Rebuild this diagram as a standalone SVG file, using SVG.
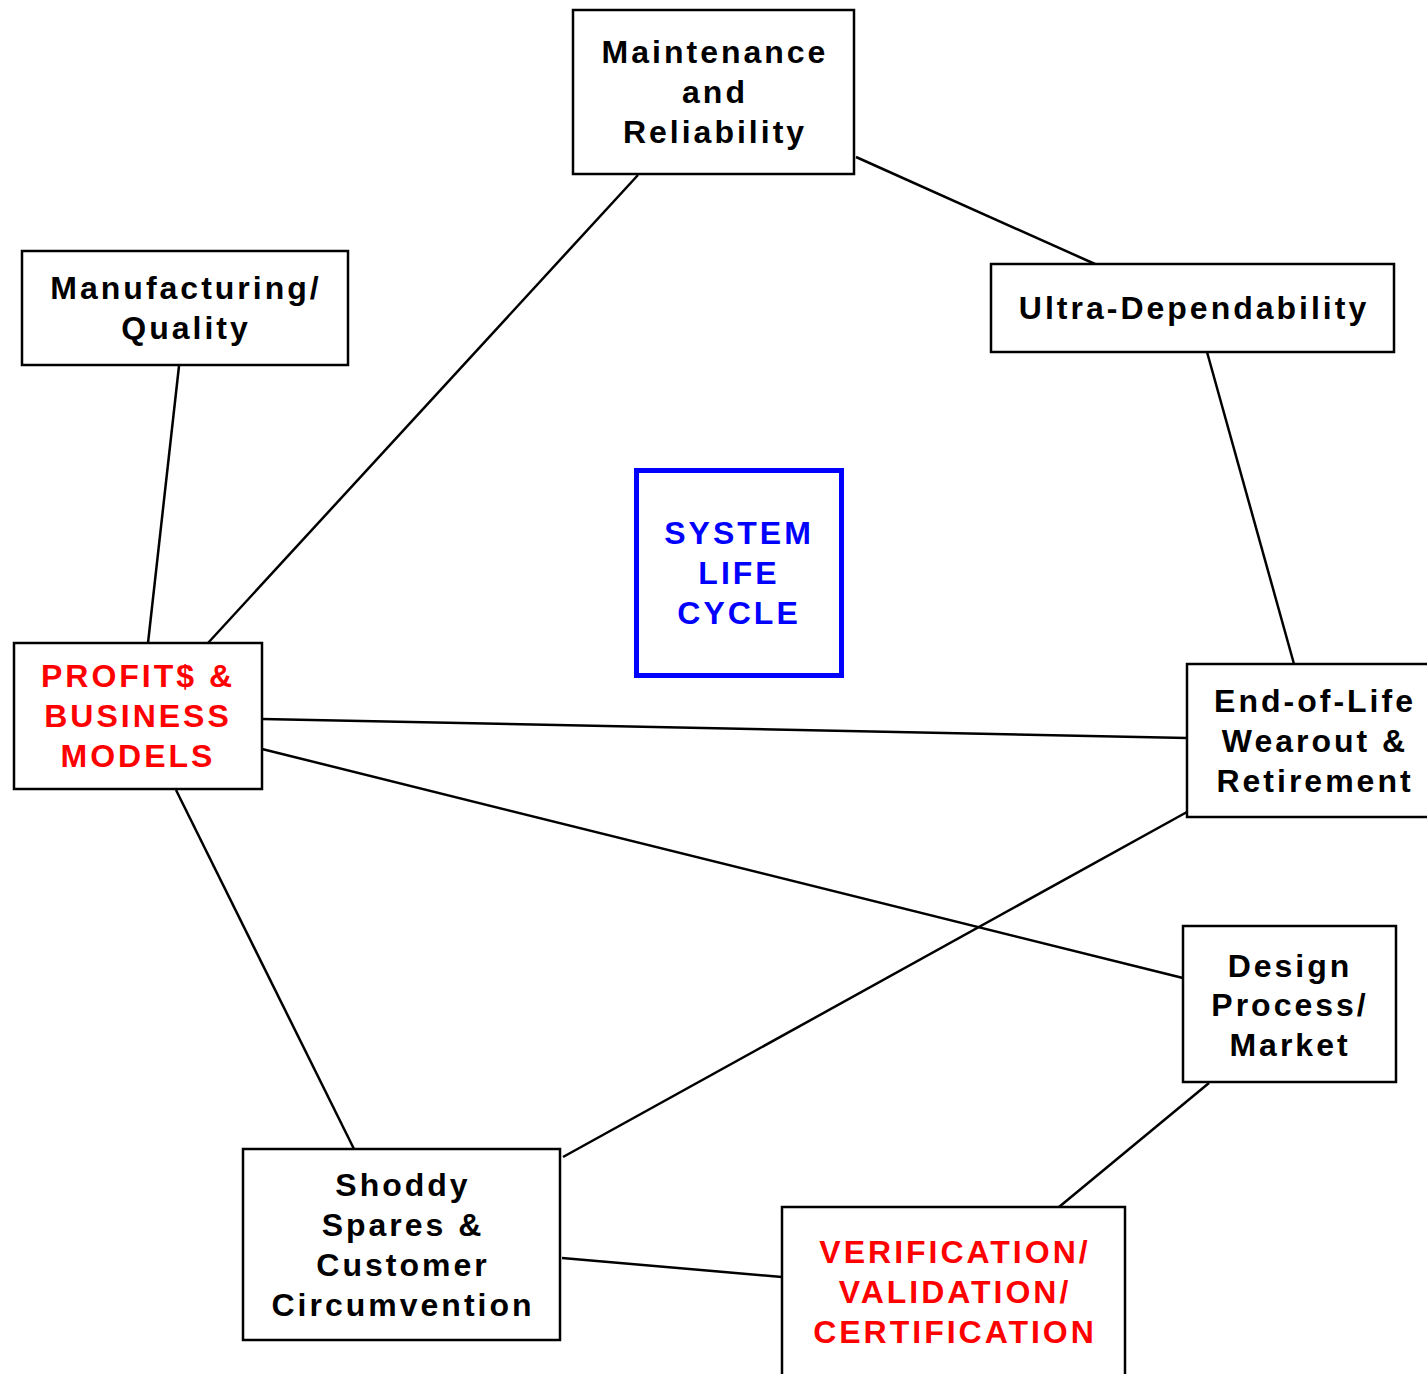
<svg xmlns="http://www.w3.org/2000/svg" width="1427" height="1374" viewBox="0 0 1427 1374">
<style>
.box{fill:#fff;stroke:#000;stroke-width:2.5}
.t{font-family:"Liberation Sans",Arial,sans-serif;font-weight:bold;font-size:32px;letter-spacing:3px;text-anchor:middle;fill:#000}
.red{fill:#ff0000}
.blue{fill:#0000ff}
.conn line{stroke:#000;stroke-width:2.5}
</style>
<rect width="1427" height="1374" fill="#fff"/>
<g id="connectors" class="conn">
<line x1="638" y1="175" x2="208" y2="643"/>
<line x1="856" y1="157" x2="1095" y2="264"/>
<line x1="179" y1="366" x2="148" y2="643"/>
<line x1="1207" y1="352" x2="1294" y2="664"/>
<line x1="262" y1="719" x2="1187" y2="738"/>
<line x1="262" y1="749" x2="1183" y2="978"/>
<line x1="176" y1="790" x2="354" y2="1149"/>
<line x1="1187" y1="812" x2="563" y2="1157"/>
<line x1="1209" y1="1083" x2="1059" y2="1207"/>
<line x1="562" y1="1258" x2="782" y2="1277"/>
</g>
<g id="maintenance">
<rect class="box" x="573" y="10" width="281" height="164"/>
<text class="t" x="715" y="63">Maintenance</text>
<text class="t" x="715" y="103">and</text>
<text class="t" x="715" y="143">Reliability</text>
</g>
<g id="manufacturing">
<rect class="box" x="22" y="251" width="326" height="114"/>
<text class="t" x="186" y="299">Manufacturing/</text>
<text class="t" x="186" y="339">Quality</text>
</g>
<g id="ultra">
<rect class="box" x="991" y="264" width="403" height="88"/>
<text class="t" x="1194" y="319">Ultra-Dependability</text>
</g>
<g id="system">
<rect x="636.5" y="470.5" width="205" height="205" fill="#fff" stroke="#0000ff" stroke-width="5"/>
<text class="t blue" x="739" y="544">SYSTEM</text>
<text class="t blue" x="739" y="584">LIFE</text>
<text class="t blue" x="739" y="624">CYCLE</text>
</g>
<g id="profits">
<rect class="box" x="14" y="643" width="248" height="146"/>
<text class="t red" x="138" y="687">PROFIT$ &amp;</text>
<text class="t red" x="138" y="727">BUSINESS</text>
<text class="t red" x="138" y="767">MODELS</text>
</g>
<g id="endoflife">
<rect class="box" x="1187" y="664" width="260" height="153"/>
<text class="t" x="1315" y="712">End-of-Life</text>
<text class="t" x="1315" y="752">Wearout &amp;</text>
<text class="t" x="1315" y="792">Retirement</text>
</g>
<g id="design">
<rect class="box" x="1183" y="926" width="213" height="156"/>
<text class="t" x="1290" y="977">Design</text>
<text class="t" x="1290" y="1016">Process/</text>
<text class="t" x="1290" y="1056">Market</text>
</g>
<g id="shoddy">
<rect class="box" x="243" y="1149" width="317" height="191"/>
<text class="t" x="403" y="1196">Shoddy</text>
<text class="t" x="403" y="1236">Spares &amp;</text>
<text class="t" x="403" y="1276">Customer</text>
<text class="t" x="403" y="1316">Circumvention</text>
</g>
<g id="verification">
<rect class="box" x="782" y="1207" width="343" height="190"/>
<text class="t red" x="955" y="1263">VERIFICATION/</text>
<text class="t red" x="955" y="1303">VALIDATION/</text>
<text class="t red" x="955" y="1343">CERTIFICATION</text>
</g>
</svg>
